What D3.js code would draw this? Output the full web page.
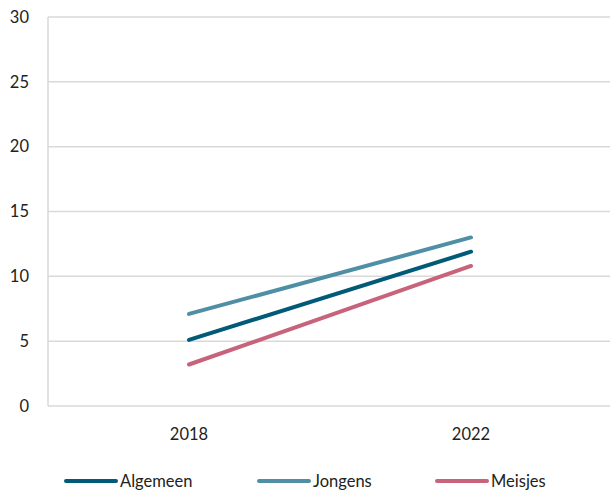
<!DOCTYPE html>
<html><head><meta charset="utf-8">
<script src="https://cdn.jsdelivr.net/npm/d3@7"></script>
<style>body{margin:0;background:#fff}svg{display:block}text{font-family:Lato,"Open Sans",sans-serif;fill:#222}</style>
</head><body><svg id="c" width="610" height="493"></svg>
<script>
const categories = ["2018", "2022"];
const seriesNames = ["Algemeen", "Jongens", "Meisjes"];
const algemeen = [5.1, 11.9];
const jongens = [7.1, 13.0];
const meisjes = [3.2, 10.8];
const yTicks = [0, 5, 10, 15, 20, 25, 30];
const colors = ["#005a78", "#4f8fa5", "#c8637c"];
const values = [algemeen, jongens, meisjes];

const svg = d3.select("#c");
const x = d3.scaleBand().domain(categories).range([48, 612]);
const y = d3.scaleLinear().domain([0, 30]).range([406, 17]);

svg.append("g").selectAll("line").data(yTicks).join("line")
  .attr("x1", 48).attr("x2", 610).attr("y1", d => y(d)).attr("y2", d => y(d))
  .attr("stroke", "#d9d9d9").attr("stroke-width", 1.5);
svg.append("line").attr("x1", 48).attr("x2", 48).attr("y1", y(30)).attr("y2", y(0))
  .attr("stroke", "#d9d9d9").attr("stroke-width", 1.5);

svg.append("g").selectAll("text").data(yTicks).join("text")
  .attr("x", 29).attr("y", d => y(d)).attr("dy", "0.35em").attr("text-anchor", "end")
  .attr("font-size", 16.5).text(d => d);
svg.append("g").selectAll("text").data(categories).join("text")
  .attr("x", d => x(d) + x.bandwidth() / 2).attr("y", 440).attr("text-anchor", "middle")
  .attr("font-size", 16.5).text(d => d);

const line = d3.line().x((d, i) => x(categories[i]) + x.bandwidth() / 2).y(d => y(d));
svg.append("g").selectAll("path").data(values).join("path")
  .attr("d", d => line(d)).attr("fill", "none")
  .attr("stroke", (d, i) => colors[i]).attr("stroke-width", 4).attr("stroke-linecap", "round");

const legX = [66, 259, 437];
const lg = svg.append("g").selectAll("g").data(seriesNames).join("g")
  .attr("transform", (d, i) => `translate(${legX[i]},481)`);
lg.append("line").attr("x1", 0).attr("x2", 50).attr("stroke", (d, i) => colors[i])
  .attr("stroke-width", 4).attr("stroke-linecap", "round");
lg.append("text").attr("x", 54).attr("dy", "0.35em").attr("font-size", 16.5).text(d => d);
</script></body></html>
